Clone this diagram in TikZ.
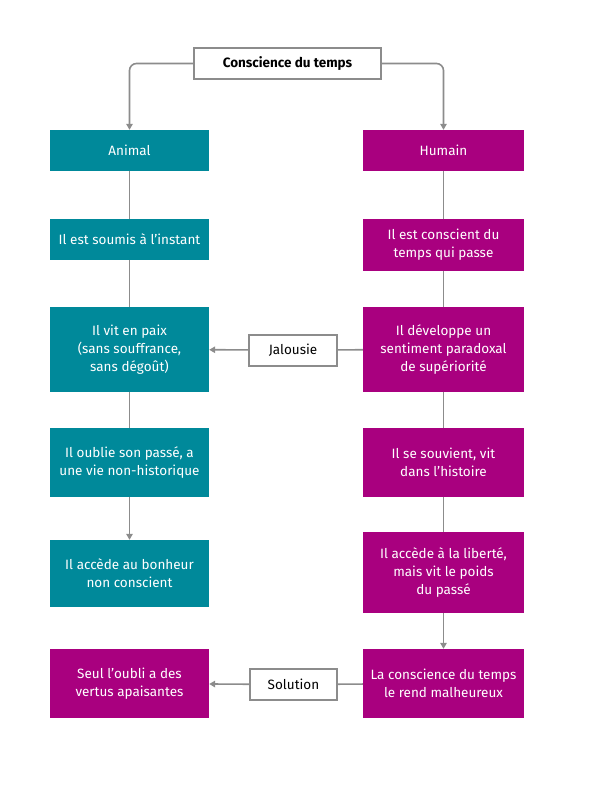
\documentclass[tikz,border=0pt]{standalone}
\usepackage{fontspec}
\setmainfont{Fira Sans}
\usepackage{xcolor}
\usetikzlibrary{arrows.meta,positioning}
\definecolor{CTeal}{HTML}{00899A}
\definecolor{CMagenta}{HTML}{A9007F}
\definecolor{CGray}{HTML}{8C8C8C}

\begin{document}
\begin{tikzpicture}[
  x=1pt,y=-1pt,
  every node/.style={font=\fontsize{13.5}{18}\selectfont},
  animalbox/.style={fill=CTeal,text=white,inner sep=0pt,
    minimum width=159pt,align=center},
  humainbox/.style={fill=CMagenta,text=white,inner sep=0pt,
    minimum width=161pt,align=center},
  labelbox/.style={draw=CGray,line width=2pt,fill=white,inner sep=0pt,
    minimum height=31pt,align=center},
  line/.style={draw=CGray,line width=1.6pt},
  a/.style={line,-{Triangle[length=6pt,width=6.5pt]}}
]
  \useasboundingbox (0,0) rectangle (593,801);

  \node[labelbox,minimum width=187pt,font=\fontsize{13.5}{18}\selectfont\bfseries]
    (top) at (287.5,63.5) {Conscience du temps};

  \node[animalbox,minimum height=41pt] (animal) at (129.5,150.5) {Animal};
  \node[animalbox,minimum height=41pt] (l2) at (129.5,239.5) {Il est soumis à l’instant};
  \node[animalbox,minimum height=85pt] (l3) at (129.5,349.5)
    {Il vit en paix\\(sans souffrance,\\sans dégoût)};
  \node[animalbox,minimum height=69pt] (l4) at (129.5,462.5)
    {Il oublie son passé, a\\une vie non-historique};
  \node[animalbox,minimum height=67pt] (l5) at (129.5,573.5)
    {Il accède au bonheur\\non conscient};
  \node[humainbox,minimum width=159pt,minimum height=69pt] (l6) at (129.5,683.5)
    {Seul l’oubli a des\\vertus apaisantes};

  \node[humainbox,minimum height=41pt] (humain) at (443.5,150.5) {Humain};
  \node[humainbox,minimum height=52pt] (r2) at (443.5,245)
    {Il est conscient du\\temps qui passe};
  \node[humainbox,minimum height=85pt] (r3) at (443.5,349.5)
    {Il développe un\\sentiment paradoxal\\de supériorité};
  \node[humainbox,minimum height=69pt] (r4) at (443.5,462.5)
    {Il se souvient, vit\\dans l’histoire};
  \node[humainbox,minimum height=81pt] (r5) at (443.5,572.5)
    {Il accède à la liberté,\\mais vit le poids\\du passé};
  \node[humainbox,minimum height=69pt] (r6) at (443.5,683.5)
    {La conscience du temps\\le rend malheureux};

  \node[labelbox,minimum width=88pt] (jal) at (293,350) {Jalousie};
  \node[labelbox,minimum width=87pt] (sol) at (293.5,684.5) {Solution};

  % links
  \draw[a,rounded corners=7pt] (top.west) -| (animal.north);
  \draw[a,rounded corners=7pt] (top.east) -| (humain.north);
  \foreach \p/\q in {animal/l2,l2/l3,l3/l4,humain/r2,r2/r3,r3/r4,r4/r5}
    {\draw[line] (\p) -- (\q);}
  \draw[a] (l4) -- (l5);
  \draw[a] (r5) -- (r6);
  \draw[line] (r3) -- (jal);
  \draw[a] (jal) -- (l3);
  \draw[line] (r6) -- (sol);
  \draw[a] (sol) -- (l6);
\end{tikzpicture}
\end{document}
